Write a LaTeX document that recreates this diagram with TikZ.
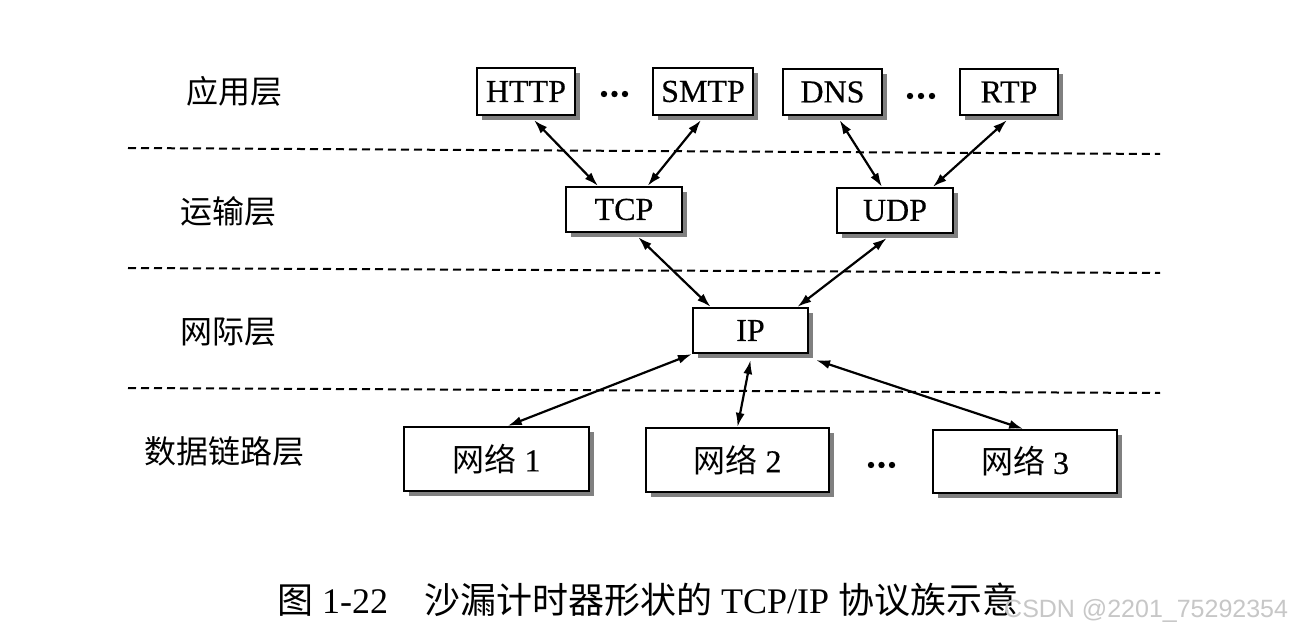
\documentclass[tikz,border=0pt]{standalone}
\usepackage{fontspec}
\setmainfont{Liberation Serif}
\newfontfamily\boxfont[FakeBold=0.4]{Liberation Serif}
\newfontfamily\cjk{Noto Sans CJK SC}
\newfontfamily\wmfont{Liberation Sans}
\usetikzlibrary{arrows.meta,shadows,calc}
\begin{document}
\begin{tikzpicture}[x=1pt,y=-1pt,
  box/.style={draw,line width=2.2pt,fill=white,inner sep=0pt,font=\boxfont\fontsize{32}{32}\selectfont,
    drop shadow={shadow xshift=5pt,shadow yshift=-5pt,fill=black!50,opacity=1}},
  conn/.style={{Latex[length=14pt,width=9pt]}-{Latex[length=14pt,width=9pt]},line width=2.2pt},
  sep/.style={line width=2pt,dash pattern=on 8pt off 5pt},
  layer/.style={font=\cjk\fontsize{32}{32}\selectfont},
  dotc/.style={fill=black}]
\useasboundingbox[fill=white] (0,0) rectangle (1291,636);

% separators
\coordinate (s1a) at (128,148); \coordinate (s1b) at (1160,154);
\coordinate (s2a) at (128,268); \coordinate (s2b) at (1160,273);
\coordinate (s3a) at (128,388); \coordinate (s3b) at (1160,393);
\draw[sep] (s1a) -- (s1b);
\draw[sep] (s2a) -- (s2b);
\draw[sep] (s3a) -- (s3b);

% layer labels
\node[layer] (l1) at (234,91) {应用层};
\node[layer] (l2) at (228,211) {运输层};
\node[layer] (l3) at (228,332) {网际层};
\node[layer] (l4) at (224,451) {数据链路层};

% boxes
\node[box,minimum width=98pt,minimum height=47pt] (http) at (526,91.5) {HTTP};
\node[box,minimum width=100pt,minimum height=47pt] (smtp) at (703,91.5) {SMTP};
\node[box,minimum width=99pt,minimum height=46pt] (dns) at (832.5,92) {DNS};
\node[box,minimum width=98pt,minimum height=46pt] (rtp) at (1009,92) {RTP};
\node[box,minimum width=116pt,minimum height=45pt] (tcp) at (624,209.5) {TCP};
\node[box,minimum width=116pt,minimum height=45pt] (udp) at (895,210.5) {UDP};
\node[box,minimum width=115pt,minimum height=45pt] (ip) at (750.5,330.5) {IP};
\node[box,minimum width=185pt,minimum height=64pt] (n1) at (496.5,459) {{\cjk 网络} 1};
\node[box,minimum width=183pt,minimum height=64pt] (n2) at (737.5,460) {{\cjk 网络} 2};
\node[box,minimum width=184pt,minimum height=63pt] (n3) at (1025,461.5) {{\cjk 网络} 3};

% dots
\foreach \x in {604,614.5,625} \fill[dotc] (\x,94) circle (3.2);
\foreach \x in {910,921,932} \fill[dotc] (\x,96) circle (3.2);
\foreach \x in {871,881.5,892} \fill[dotc] (\x,465) circle (3.2);

% connectors
\draw[conn] ($(http.south west)!0.58!(http.south east)+(0,4)$) -- ($(tcp.north west)!0.28!(tcp.north east)$);
\draw[conn] ($(smtp.south west)!0.48!(smtp.south east)+(0,4)$) -- ($(tcp.north west)!0.70!(tcp.north east)$);
\draw[conn] ($(dns.south west)!0.57!(dns.south east)+(0,4)$) -- ($(udp.north west)!0.39!(udp.north east)$);
\draw[conn] ($(rtp.south west)!0.48!(rtp.south east)+(0,4)$) -- ($(udp.north west)!0.82!(udp.north east)$);
\draw[conn] ($(tcp.south west)!0.62!(tcp.south east)+(0,4)$) -- ($(ip.north west)!0.16!(ip.north east)$);
\draw[conn] ($(udp.south west)!0.43!(udp.south east)+(0,4)$) -- ($(ip.north west)!0.90!(ip.north east)$);
\draw[conn] (ip.south west) -- ($(n1.north west)!0.56!(n1.north east)$);
\draw[conn] ($(ip.south west)!0.50!(ip.south east)+(0,6)$) -- ($(n2.north west)!0.50!(n2.north east)$);
\draw[conn] ($(ip.south east)+(7,6)$) -- ($(n3.north west)!0.49!(n3.north east)$);

% caption
\node[anchor=west,font=\fontsize{36}{36}\selectfont,inner sep=0pt] (cap) at (277,600)
  {{\cjk 图} 1-22\hspace{36pt}{\cjk 沙漏计时器形状的} TCP/IP {\cjk 协议族示意}};
\node[anchor=west,font=\wmfont\fontsize{25}{25}\selectfont,text=black!22,inner sep=0pt] (wm) at (1004,611) {CSDN @2201\_75292354};
\end{tikzpicture}
\end{document}
